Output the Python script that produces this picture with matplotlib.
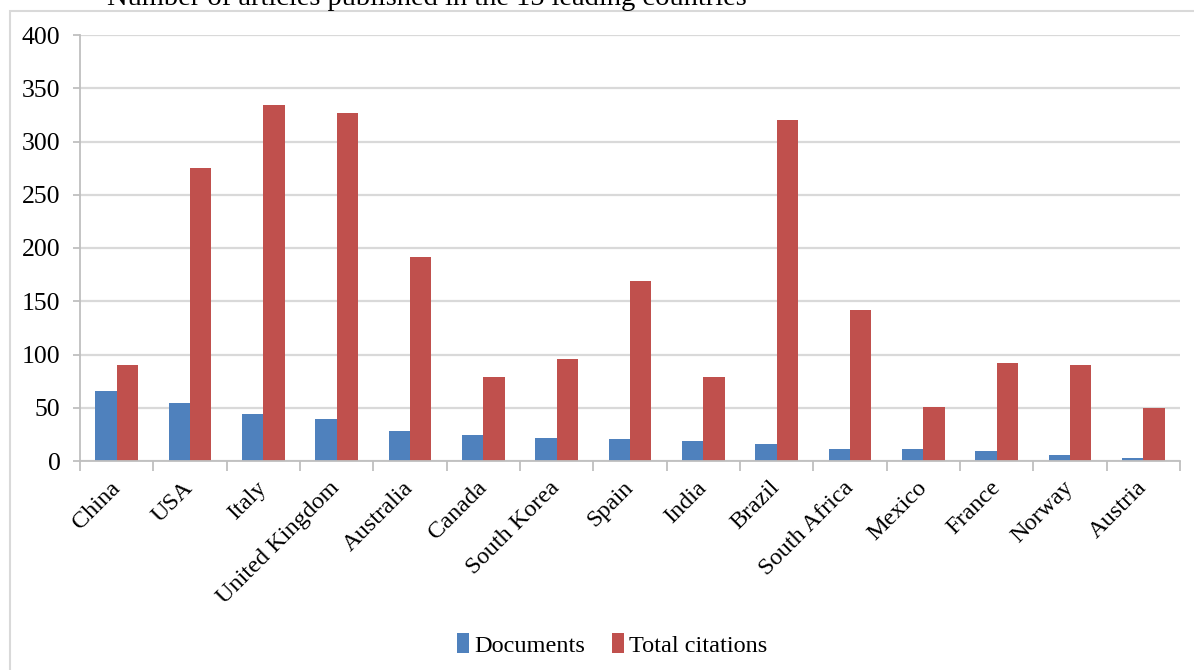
import numpy as np
import matplotlib
matplotlib.use('Agg')
import matplotlib.pyplot as plt
from matplotlib.patches import Rectangle

countries = ['China', 'USA', 'Italy', 'United Kingdom', 'Australia', 'Canada',
             'South Korea', 'Spain', 'India', 'Brazil', 'South Africa', 'Mexico',
             'France', 'Norway', 'Austria']
documents = [66, 54, 44, 39, 28, 24, 22, 21, 19, 16, 11, 11, 9, 6, 3]
citations = [90, 275, 334, 327, 192, 79, 96, 169, 79, 320, 142, 51, 92, 90, 50]

plt.rcParams['font.family'] = ['Liberation Serif', 'DejaVu Serif']

fig = plt.figure(figsize=(11.94, 6.70), dpi=100)
ax = fig.add_axes([80 / 1194, 1 - 461 / 670, 1100 / 1194, 426 / 670])

x = np.arange(len(countries))
w = 0.29
ax.bar(x - w / 2, documents, w, color='#4F81BD', label='Documents')
ax.bar(x + w / 2, citations, w, color='#C0504D', label='Total citations')

ax.set_xlim(-0.5, len(countries) - 0.5)
ax.set_ylim(0, 400)
ax.set_yticks(np.arange(0, 401, 50))
ax.yaxis.grid(True, color='#d9d9d9', linewidth=1.6)
ax.set_axisbelow(True)

for s in ['top', 'right']:
    ax.spines[s].set_visible(False)
for s in ['left', 'bottom']:
    ax.spines[s].set_color('#bfbfbf')
    ax.spines[s].set_linewidth(1.3)

ax.set_xticks(x)
ax.set_xticklabels(countries, rotation=45, ha='right', va='center',
                   rotation_mode='anchor', fontsize=17.5)
ax.tick_params(axis='x', length=0, pad=17)
ax.set_xticks(np.arange(-0.5, len(countries)), minor=True)
ax.tick_params(axis='x', which='minor', length=7, color='#bfbfbf', width=1.3)
ax.tick_params(axis='y', length=5, color='#bfbfbf', width=1.3, labelsize=18.5, pad=9)

fig.legend(loc='center', bbox_to_anchor=(612 / 1194, 1 - 645 / 670),
           ncol=2, frameon=False, fontsize=17.5, handlelength=0.5, handleheight=0.85,
           handletextpad=0.2, columnspacing=1.1, borderpad=0)

# outer chart border
fig.patches.append(Rectangle((10 / 1194, -0.1), 1.2, 1.1 - 11 / 670,
                             transform=fig.transFigure, fill=False,
                             edgecolor='#d9d9d9', linewidth=1.5))

fig.text(427 / 1194, 1 - 5 / 670, 'Number of articles published in the 15 leading countries',
         ha='center', va='baseline', fontsize=20.5)

fig.savefig('out.png', dpi=100)
